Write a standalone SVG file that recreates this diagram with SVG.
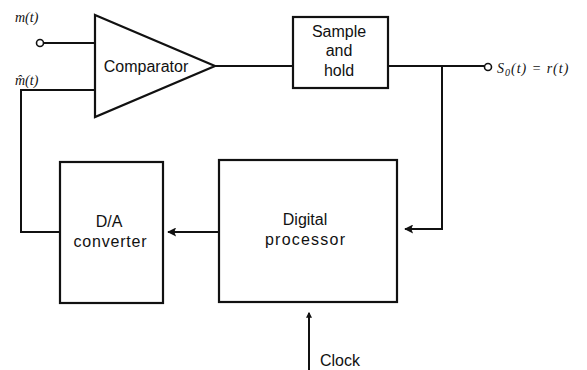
<svg xmlns="http://www.w3.org/2000/svg" width="587" height="370" viewBox="0 0 587 370">
<defs>
<style>
.ln{fill:none;stroke:#111;stroke-width:2}
.bx{fill:none;stroke:#111;stroke-width:2.2}
.t{font-family:"Liberation Sans",Arial,sans-serif;font-size:16px;fill:#111;text-anchor:middle}
.it{font-family:"Liberation Serif","Times New Roman",serif;font-style:italic;font-size:14px;fill:#111}
</style>
<marker id="ah" viewBox="0 0 10 10" refX="9" refY="5" markerWidth="10" markerHeight="9" markerUnits="userSpaceOnUse" orient="auto">
<path d="M0,0 L10,5 L0,10 L2,5 Z" fill="#111"/>
</marker>
<marker id="dot" viewBox="0 0 10 10" refX="8" refY="5" markerWidth="6" markerHeight="6" markerUnits="userSpaceOnUse" orient="auto">
<path d="M0,0 L10,5 L0,10 Z" fill="#111"/>
</marker>
</defs>
<rect width="587" height="370" fill="#fff"/>
<g id="comparator">
<path class="bx" d="M95,15 L215,66 L95,117 Z"/>
<text class="t" x="146" y="72" font-size="17">Comparator</text>
</g>
<g id="sample-hold">
<rect class="bx" x="293" y="17" width="95" height="71"/>
<text class="t" x="339" y="37">Sample</text>
<text class="t" x="339" y="56">and</text>
<text class="t" x="339" y="76">hold</text>
</g>
<g id="da-converter">
<rect class="bx" x="60" y="162" width="103" height="141"/>
<text class="t" x="109" y="227">D/A</text>
<text class="t" x="110" y="247" textLength="73" lengthAdjust="spacing">converter</text>
</g>
<g id="digital-processor">
<rect class="bx" x="219" y="160" width="178" height="142"/>
<text class="t" x="305" y="225">Digital</text>
<text class="t" x="305" y="245" textLength="80" lengthAdjust="spacing">processor</text>
</g>
<g id="input-m">
<circle cx="40" cy="43" r="3.5" fill="#fff" stroke="#111" stroke-width="1.6"/>
<text class="it" x="15" y="22">m(t)</text>
<text class="it" x="15" y="85">m̂(t)</text>
</g>
<g id="output">
<circle cx="488" cy="67" r="3.5" fill="#fff" stroke="#111" stroke-width="1.6"/>
<text class="it" x="497" y="73" font-size="15" letter-spacing="1">S<tspan font-size="10" dy="3">0</tspan><tspan dy="-3">(t) = r(t)</tspan></text>
</g>
<g id="clock">
<text class="t" x="320" y="366" font-size="15" style="text-anchor:start">Clock</text>
</g>
<g id="connectors">
<path class="ln" d="M43.5,43 H95"/>
<path class="ln" d="M95,90 H21 V232 H60"/>
<path class="ln" d="M215,66 H293"/>
<path class="ln" d="M388,66 H484.5"/>
<path class="ln" d="M442,66 V229 H405" marker-end="url(#ah)"/>
<path class="ln" d="M219,232 H168" marker-end="url(#ah)"/>
<path class="ln" d="M309,370 V313" marker-end="url(#dot)"/>
</g>
</svg>
